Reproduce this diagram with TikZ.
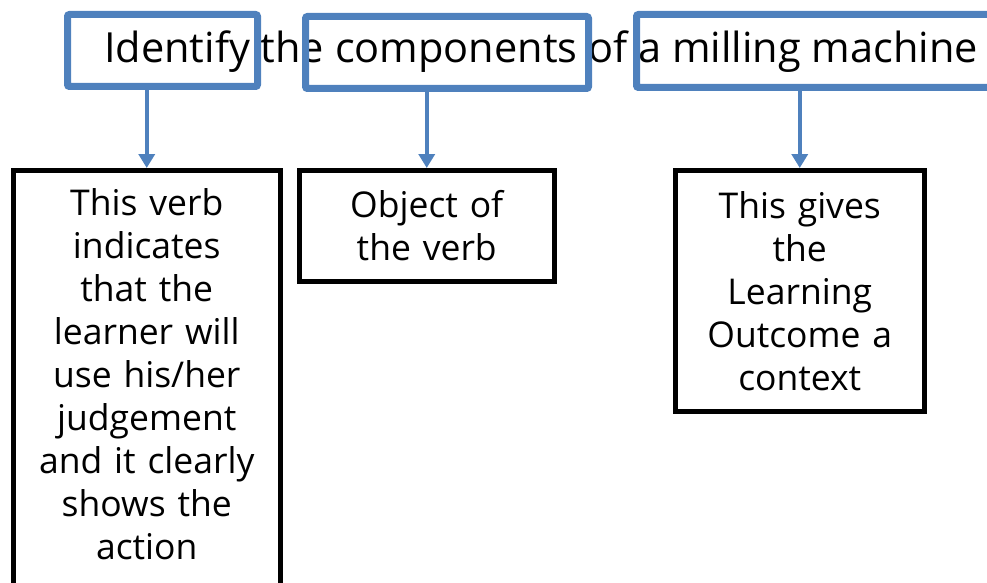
\documentclass[tikz,border=0pt]{standalone}
\usepackage{fontspec}
\setmainfont{Open Sans}
\usetikzlibrary{arrows.meta}
\definecolor{tagblue}{RGB}{79,129,189}

\begin{document}
\begin{tikzpicture}
[x=1pt,y=-1pt,
 tag/.style={draw=tagblue,line width=7pt,rounded corners=2pt,inner sep=0pt,anchor=north west},
 note/.style={draw,line width=4.5pt,inner xsep=0pt,inner ysep=18pt,align=center,anchor=north west,
   font=\fontsize{35.5}{43}\selectfont},
 link/.style={draw=tagblue,line width=4pt,-{Triangle[width=16pt,length=14pt]}}]
\useasboundingbox (0,0) rectangle (987,583);
\clip (0,0) rectangle (987,583);
\node[anchor=base west,inner sep=0pt,font=\fontsize{41.5}{48}\selectfont] (lo) at (104,63)
  {Identify the components of a milling machine};
\node[tag,minimum width=190pt,minimum height=72pt] (id) at (64,11) {};
\node[tag,minimum width=283pt,minimum height=72pt] (comp) at (302,13) {};
\node[tag,minimum width=400pt,minimum height=73pt] (mill) at (633,11) {};
\node[note,text width=267pt] (verb) at (11,168)
  {This verb\\indicates\\that the\\learner will\\use his/her\\judgement\\and it clearly\\shows the\\action\\ \mbox{}};
\node[note,text width=255pt,minimum height=111pt] (obj) at (297,168) {Object of\\the verb};
\node[note,text width=249pt,minimum height=241pt] (ctx) at (673,168)
  {This gives\\the\\Learning\\Outcome a\\context};
\foreach \from/\to in {id/verb,comp/obj,mill/ctx}
\draw[link] (\to.north |- \from.south) -- (\to.north);
\end{tikzpicture}
\end{document}
